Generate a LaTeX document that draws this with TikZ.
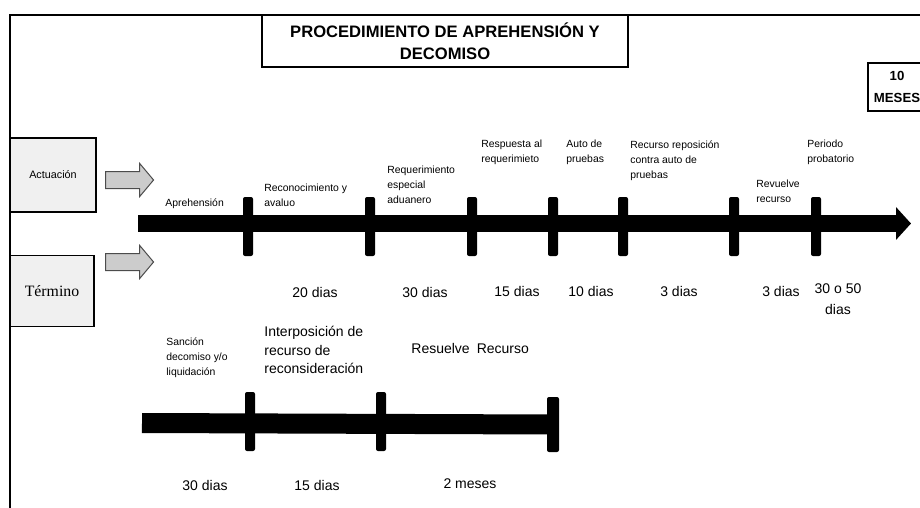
\documentclass[tikz,border=0pt]{standalone}
\usepackage{fontspec}
\setmainfont{Liberation Sans}
\newfontfamily\termfont{Liberation Serif}
\usetikzlibrary{shapes.arrows,arrows.meta}

\begin{document}
\begin{tikzpicture}[x=0.5pt,y=-0.5pt,
    hito/.style={fill=black,minimum width=5pt,minimum height=29.5pt,inner sep=0pt,rounded corners=1pt},
    barra/.style={line width=#1},
    evento/.style={anchor=north west,align=left,inner sep=0pt,font=\fontsize{5.2pt}{7.5pt}\selectfont},
    plazo/.style={align=center,inner sep=0pt,font=\fontsize{7pt}{10.5pt}\selectfont},
    caja/.style={draw,line width=0.6pt,fill=gray!12,inner sep=0pt},
    flecha/.style={single arrow,draw=gray!60!black,fill=gray!40,line width=0.5pt,inner sep=4pt,
        single arrow head extend=4pt,single arrow tip angle=100,minimum height=24pt}]
    \clip (0,0) rectangle (920,508);
    % marco y titulos
    \draw[line width=0.8pt] (10,15) rectangle (940,530);
    \node[draw,line width=0.6pt,fill=white,minimum width=183pt,minimum height=26pt,align=center,
        font=\bfseries\fontsize{8.3pt}{11pt}\selectfont] (titulo) at (445,41) {PROCEDIMIENTO DE APREHENSIÓN Y\\DECOMISO};
    \node[draw,line width=0.6pt,minimum width=29pt,minimum height=24pt,align=center,inner sep=0pt,
        font=\bfseries\fontsize{6.6pt}{11pt}\selectfont] (meses) at (897,87) {10\\MESES};
    \node[caja,minimum width=43pt,minimum height=37pt,font=\fontsize{5.4pt}{7pt}\selectfont] (actuacion) at (53,175) {Actuación};
    \node[caja,minimum width=42pt,minimum height=35.5pt,font=\termfont\fontsize{7.9pt}{9pt}\selectfont] (termino) at (52,291) {Término};
    \node[flecha] (fa) at (126,180) {};
    \node[flecha] (ft) at (126,262) {};
    % linea de tiempo principal
    \coordinate (ini1) at (138,223.5);
    \coordinate (fin1) at (911,223.5);
    \draw[barra=8.5pt,-{Triangle[width=16pt,length=7.5pt]}] (ini1) -- (fin1);
    \foreach \x [count=\i] in {248,370,472,553,623,734,816}
        \node[hito] (h\i) at (\x,226.5) {};
    \node[evento] (aprehension) at (165,198) {Aprehensión};
    \node[evento] (reconocimiento) at (264,184) {Reconocimiento y\\avaluo};
    \node[evento] (requerimiento) at (387,166) {Requerimiento\\especial\\aduanero};
    \node[evento] (respuesta) at (481,140) {Respuesta al\\requerimieto};
    \node[evento] (auto) at (566,140) {Auto de\\pruebas};
    \node[evento] (reposicion) at (630,140) {Recurso reposición\\contra auto de\\pruebas};
    \node[evento] (revuelve) at (756,180) {Revuelve\\recurso};
    \node[evento] (periodo) at (807,140) {Periodo\\probatorio};
    \node[plazo] (p1) at (315,292) {20 dias};
    \node[plazo] (p2) at (425,292) {30 dias};
    \node[plazo] (p3) at (517,291) {15 dias};
    \node[plazo] (p4) at (591,291) {10 dias};
    \node[plazo] (p5) at (679,291) {3 dias};
    \node[plazo] (p6) at (781,291) {3 dias};
    \node[plazo] (p7) at (838,299.5) {30 o 50\\dias};
    % segunda linea de tiempo
    \node[hito] (k1) at (250,421.5) {};
    \node[hito] (k2) at (381,421.5) {};
    \node[hito,minimum width=6pt,minimum height=27.5pt] (k3) at (553,424.5) {};
    \coordinate (ini2) at (142,423);
    \draw[barra=10pt] (ini2) -- (k3.center);
    \node[evento] (sancion) at (166,337) {Sanción\\decomiso y/o\\liquidación};
    \node[evento,font=\fontsize{7pt}{9.25pt}\selectfont] (interposicion) at (264,326) {Interposición de\\recurso de\\reconsideración};
    \node[evento,font=\fontsize{7pt}{9.25pt}\selectfont] (resuelve) at (411,343) {Resuelve\enspace Recurso};
    \node[plazo] (q1) at (205,485) {30 dias};
    \node[plazo] (q2) at (317,485) {15 dias};
    \node[plazo] (q3) at (470,484) {2 meses};
\end{tikzpicture}
\end{document}
